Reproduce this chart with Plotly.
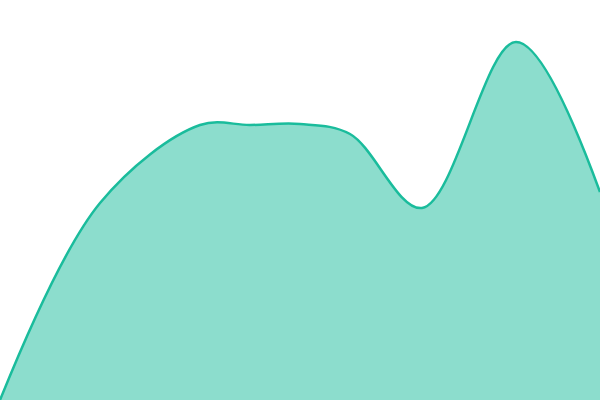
import plotly.graph_objects as go

# values (axes hidden, 0..600 x 0..400)
xs = [0, 100, 200, 250, 300, 350, 422, 516, 600]
ys = [0, 197, 275, 275, 276, 266, 192, 358, 208]

fig = go.Figure()
fig.add_trace(go.Scatter(
    x=xs, y=ys,
    mode="lines",
    line=dict(color="#1abc9c", width=2.5, shape="spline", smoothing=1),
    fill="tozeroy",
    fillcolor="rgba(26,188,156,0.5)",
    hoverinfo="skip",
))

fig.update_layout(
    width=600, height=400,
    margin=dict(l=0, r=0, t=0, b=0),
    paper_bgcolor="white", plot_bgcolor="white",
    showlegend=False,
    xaxis=dict(visible=False, range=[0, 600]),
    yaxis=dict(visible=False, range=[0, 400]),
)

# page has a default body margin; drop it so the chart sits at 0,0
fig.write_html("out.html", config={"displayModeBar": False},
               post_script="document.body.style.margin='0';")
